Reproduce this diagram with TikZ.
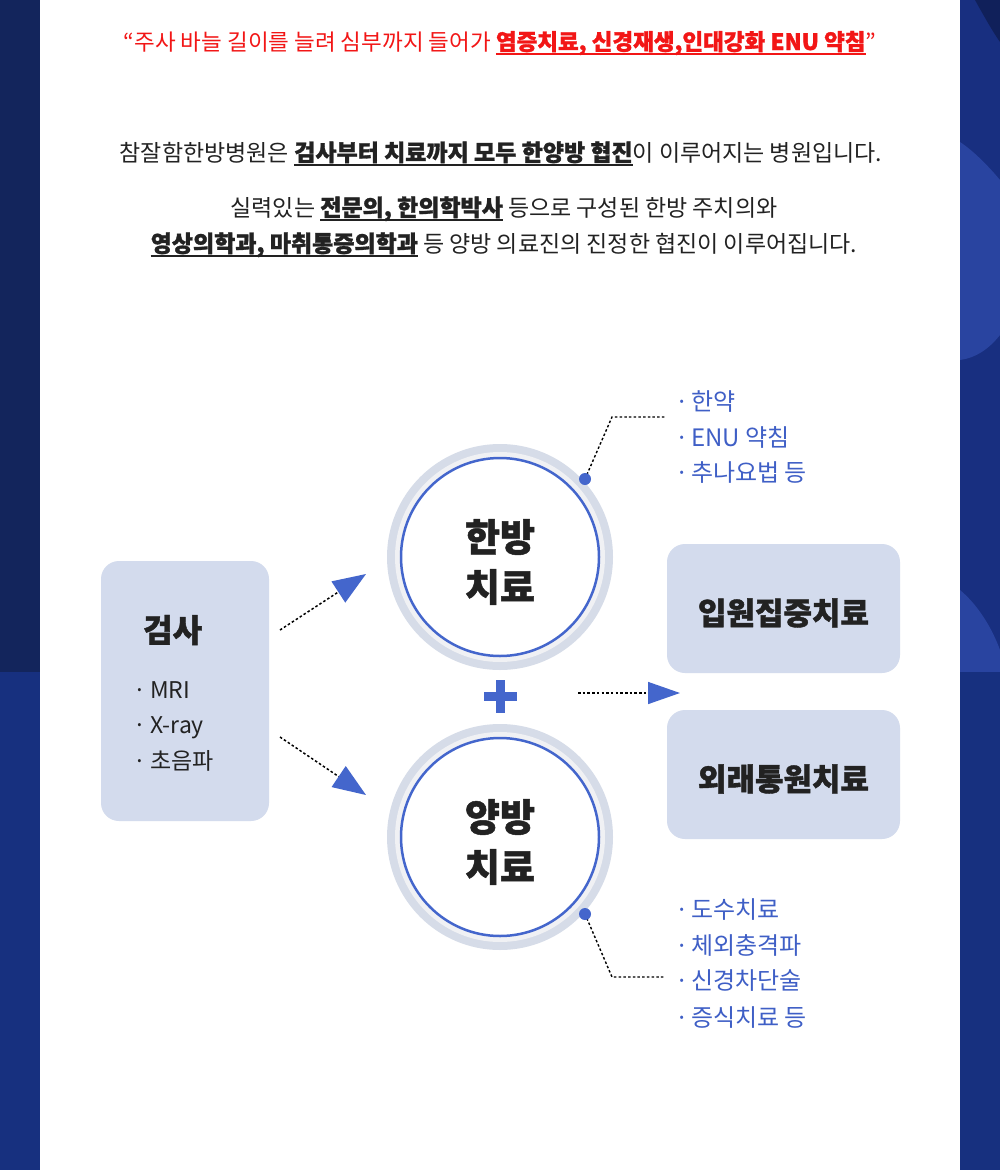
\documentclass[tikz,border=0pt]{standalone}
\usepackage{fontspec}
\setmainfont{Noto Sans CJK KR}[BoldFeatures={FakeBold=1.3}]
\usetikzlibrary{arrows.meta}
\definecolor{navytop}{HTML}{13255C}
\definecolor{navybot}{HTML}{17307F}
\definecolor{panelbase}{HTML}{182F80}
\definecolor{paneldark}{HTML}{10205A}
\definecolor{panellight}{HTML}{2944A0}
\definecolor{boxfill}{HTML}{D3DBED}
\definecolor{ringgray}{HTML}{D6DCE8}
\definecolor{ringlight}{HTML}{F0F1F4}
\definecolor{myblue}{HTML}{4466CC}
\definecolor{listblue}{HTML}{3F5FC6}
\definecolor{darktext}{HTML}{222222}
\definecolor{myred}{HTML}{F21616}
\newcommand\myul[1]{\setbox0\hbox{#1}\rlap{\rule[-4.5pt]{\wd0}{1.8pt}}\box0\relax}
\newcommand\bul{·\kern-3pt\ }
\newcommand\exbul{·\kern-1pt\ }
\tikzset{
  x=1pt, y=-1pt,
  bodytxt/.style={text=darktext, font=\fontsize{23}{28}\selectfont, inner sep=0pt, anchor=base},
  listtxt/.style={text=listblue, font=\fontsize{24}{28}\selectfont, inner sep=0pt, anchor=base west},
  exlist/.style={text=darktext, font=\fontsize{23}{28}\selectfont, inner sep=0pt, anchor=base west},
  softbox/.style={fill=boxfill, rounded corners=18pt, inner sep=0pt},
  boxtxt/.style={text=darktext, font=\fontsize{31}{36}\selectfont\bfseries, inner sep=0pt},
  ringnode/.style={circle, draw=myblue, line width=2.5pt, fill=white, minimum size=198pt, inner sep=0pt},
  circtxt/.style={align=center, inner sep=0pt, text=darktext, font=\fontsize{38}{50}\selectfont\bfseries},
  dotline/.style={draw=black, line width=1.5pt, dash pattern=on 2.5pt off 2.2pt},
  bigtip/.style={-{Triangle[length=33pt,width=25pt,color=myblue]}},
  leader/.style={draw=black, line width=1.4pt, dash pattern=on 2.5pt off 2.2pt},
}
\begin{document}
\begin{tikzpicture}
\useasboundingbox (0,0) rectangle (1000,1170);
% background panels
\fill[white] (0,0) rectangle (1000,1170);
\fill[navytop] (0,0) rectangle (40,672);
\fill[navybot] (0,672) rectangle (40,1170);
\fill[panelbase] (960,0) rectangle (1000,1170);
\fill[paneldark] (975,0) .. controls (985,18) and (993,32) .. (1000,42) -- (1000,0) -- cycle;
\fill[panellight] (960,142) .. controls (975,152) and (990,168) .. (1000,180) -- (1000,335) .. controls (988,350) and (975,358) .. (960,360) -- cycle;
\fill[panellight] (960,590) .. controls (978,605) and (992,628) .. (1000,650) -- (1000,672) -- (960,672) -- cycle;
\fill[navybot] (960,672) rectangle (1000,1170);

% headline
\node[bodytxt, text=myred, font=\fontsize{22.5}{28}\selectfont] (head) at (500,50) {“주사 바늘 길이를 늘려 심부까지 들어가 \myul{\bfseries 염증치료, 신경재생,인대강화 ENU 약침}”};

% intro text
\node[bodytxt] (intro1) at (501,161) {참잘함한방병원은 \myul{\bfseries 검사부터 치료까지 모두 한양방 협진}이 이루어지는 병원입니다.};
\node[bodytxt] (intro2) at (504,216) {실력있는 \myul{\bfseries 전문의, 한의학박사} 등으로 구성된 한방 주치의와};
\node[bodytxt] (intro3) at (504,252) {\myul{\bfseries 영상의학과, 마취통증의학과} 등 양방 의료진의 진정한 협진이 이루어집니다.};

% exam box
\node[softbox, minimum width=168pt, minimum height=260pt] (exam) at (185,691) {};
\node[text=darktext, font=\fontsize{32}{36}\selectfont\bfseries, inner sep=0pt, anchor=base west] (examt) at (143,642) {검사};
\node[exlist] (ex1) at (133,698) {\exbul MRI};
\node[exlist] (ex2) at (133,733) {\exbul X-ray};
\node[exlist] (ex3) at (133,769) {\exbul 초음파};

% circles
\fill[ringgray] (500,557) circle (113pt);
\fill[ringlight] (500,557) circle (105pt);
\node[ringnode] (hb) at (500,557) {};
\node[circtxt] (hbt) at (500,562) {한방\\치료};
\fill[ringgray] (500,837) circle (113pt);
\fill[ringlight] (500,837) circle (105pt);
\node[ringnode] (yb) at (500,837) {};
\node[circtxt] (ybt) at (500,842) {양방\\치료};

% plus
\node[fill=myblue, minimum width=33pt, minimum height=9pt, inner sep=0pt] (plush) at (500,696) {};
\node[fill=myblue, minimum width=9pt, minimum height=33pt, inner sep=0pt] (plusv) at (500,696) {};

% right boxes
\node[softbox, minimum width=233pt, minimum height=129pt] (inpat) at (783.5,608.5) {};
\node[boxtxt] (inpatt) at (783.5,613) {입원집중치료};
\node[softbox, minimum width=233pt, minimum height=129pt] (outpat) at (783.5,774.5) {};
\node[boxtxt] (outpatt) at (783.5,779) {외래통원치료};

% arrows
\coordinate (a1s) at (280,630);
\coordinate (a1e) at (366,574);
\coordinate (a2s) at (280,737);
\coordinate (a2e) at (366,795);
\coordinate (a3s) at (578,693);
\coordinate (a3e) at (680,693);
\draw[dotline, bigtip] (a1s) -- (a1e);
\draw[dotline, bigtip] (a2s) -- (a2e);
\draw[dotline, -{Triangle[length=32pt,width=22pt,color=myblue]}] (a3s) -- (a3e);

% leaders
\coordinate (d1) at (585,479);
\coordinate (c1) at (612,417);
\coordinate (e1) at (665,417);
\draw[leader] (d1) -- (c1) -- (e1);
\fill[myblue] (d1) circle (6pt);
\coordinate (d2) at (585,914);
\coordinate (c2) at (612,977);
\coordinate (e2) at (665,977);
\draw[leader] (d2) -- (c2) -- (e2);
\fill[myblue] (d2) circle (6pt);

% lists
\node[listtxt] (t1) at (675,410) {\bul 한약};
\node[listtxt] (t2) at (675,446) {\bul ENU 약침};
\node[listtxt] (t3) at (675,481) {\bul 추나요법 등};
\node[listtxt] (b1) at (675,918) {\bul 도수치료};
\node[listtxt] (b2) at (675,954) {\bul 체외충격파};
\node[listtxt] (b3) at (675,989) {\bul 신경차단술};
\node[listtxt] (b4) at (675,1026) {\bul 증식치료 등};
\end{tikzpicture}
\end{document}
